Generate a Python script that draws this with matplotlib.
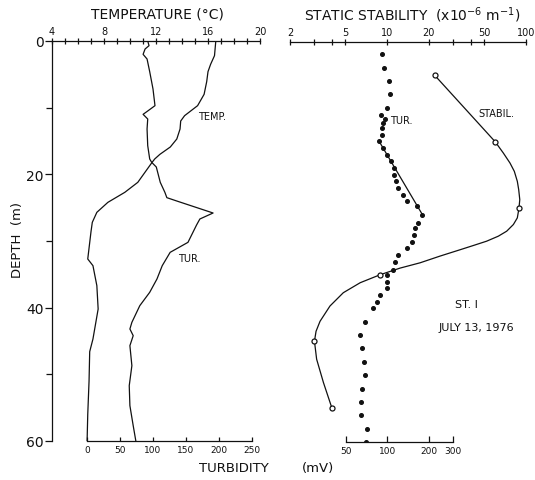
import numpy as np
import matplotlib
matplotlib.use('Agg')
import matplotlib.pyplot as plt

# left panel: temperature (top axis) and turbidity (bottom axis) vs depth
temp_depth = [0, 2.2, 3.5, 4.6, 6.1, 8, 9.7, 11.2, 12, 13.2, 14.7, 15.9, 17, 17.7, 18.2,
              19.7, 21.2, 22.7, 24.2, 25.7, 27.2, 28.6, 32.7, 33.7, 36.7, 40.2, 44.7,
              46.6, 51, 56, 60]
temp_c = [16.6, 16.5, 16.2, 16.0, 15.9, 15.7, 15.2, 14.2, 13.9, 13.85, 13.6, 13.1, 12.3,
          11.9, 11.7, 11.15, 10.6, 9.6, 8.3, 7.45, 7.1, 7.0, 6.75, 7.15, 7.45, 7.55, 7.15,
          6.9, 6.85, 6.75, 6.7]

turb_depth = [0, 0.7, 1.2, 2.0, 2.7, 4.6, 7.2, 9.7, 10.5, 11, 11.7, 13.2, 15.7, 17.7,
              18.2, 18.9, 21.2, 22.7, 23.5, 24.0, 25.8, 26.7, 27.6, 28.6, 30.2, 31.7, 33.7,
              35.7, 37.7, 39.7, 42.2, 43.2, 44.2, 45.7, 48.7, 51.7, 54.7, 57.7, 60]
turb_mv = [92, 94, 88, 85, 91, 95, 100, 103, 92, 85, 92, 91, 92, 95, 98, 105, 111, 118,
           121, 136, 191, 171, 166, 161, 153, 126, 114, 106, 95, 80, 68, 65, 70, 65, 68,
           64, 65, 70, 74]

# right panel: turbidity dots (log axis at bottom) and static stability (log axis on top)
rturb_depth = [2, 4, 6, 8, 10, 11, 11.6, 12.3, 13, 14, 15, 16, 17, 18, 19, 20, 21, 22, 23,
               24, 24.7, 26, 27.2, 28, 29, 30, 31, 32, 33, 34.2, 35, 36, 37, 38, 39, 40,
               42, 44, 46, 48, 50, 52, 54, 56, 58, 60]
rturb_mv = [91, 95, 103, 104, 99, 90, 96, 93, 92, 91, 87, 93, 99, 106, 112, 112, 115, 120,
            129, 138, 163, 178, 166, 159, 157, 150, 138, 120, 114, 109, 100, 100, 100, 88,
            84, 78, 69, 63, 65, 68, 69, 65, 64, 64, 71, 70]
fit_depth = [15, 26]
fit_mv = [87, 180]

stab_depth = [5, 15, 25, 35, 45, 55]
stab_val = [22, 60, 89, 8.9, 3.0, 4.0]
# hand drawn curve through the stability points
stab_curve_depth = [5, 15, 16.7, 18.2, 19.45, 20.95, 22.2, 23.7, 25, 26.45, 27.45, 28.45,
                    29.2, 29.95, 30.6, 31.2, 32.2, 33.2, 34.0, 35, 36.2, 37.7, 39.7, 42.0,
                    43.5, 45, 47.7, 51.2, 55]
stab_curve_val = [22, 60, 68.7, 76.7, 82.4, 86.6, 88.6, 90.2, 89, 86.6, 81.1, 72.6, 63.2,
                  52.1, 41.8, 34, 24.0, 17.3, 12.4, 8.9, 6.4, 4.84, 3.88, 3.29, 3.08, 3.0,
                  3.11, 3.48, 4.0]

temp_ticks = [4, 8, 12, 16, 20]
bturb_ticks = [0, 50, 100, 150, 200, 250]
stab_ticks = [2, 5, 10, 20, 50, 100]
rturb_ticks = [50, 100, 200, 300]
depth_ticks = [0, 20, 40, 60]

W, H = 535, 481
fig = plt.figure(figsize=(W / 100, H / 100), dpi=100)
ink = '#111111'
lw = 0.9


def box(x0, x1, y0=42, y1=442):
    return [x0 / W, 1 - y1 / H, (x1 - x0) / W, (y1 - y0) / H]


def bare(ax, keep):
    for s in ['left', 'right', 'top', 'bottom']:
        ax.spines[s].set_visible(s in keep)
        ax.spines[s].set_linewidth(lw)
        ax.spines[s].set_color(ink)
    ax.patch.set_visible(False)
    ax.set_ylim(60, 0)


# temperature
ax_t = fig.add_axes(box(52, 260))
bare(ax_t, ['left', 'top'])
ax_t.set_xlim(4, 20)
ax_t.xaxis.tick_top()
ax_t.set_xticks(temp_ticks)
ax_t.set_xticks(range(4, 21), minor=True)
ax_t.tick_params(axis='x', which='both', direction='inout', length=5, width=lw,
                 color=ink, labelsize=7, pad=1, labelcolor=ink)
ax_t.set_yticks(depth_ticks)
ax_t.set_yticks([10, 30, 50], minor=True)
ax_t.tick_params(axis='y', which='major', direction='out', length=5, width=lw,
                 color=ink, labelsize=10, labelcolor=ink, pad=1)
ax_t.tick_params(axis='y', which='minor', direction='out', length=4, width=lw, color=ink)
ax_t.plot(temp_c, temp_depth, color=ink, lw=lw)

# turbidity, linear
ax_b = fig.add_axes(box(87, 252))
bare(ax_b, ['bottom'])
ax_b.set_xlim(0, 250)
ax_b.set_xticks(bturb_ticks)
ax_b.set_yticks([])
ax_b.tick_params(axis='x', direction='in', length=3, width=lw, color=ink,
                 labelsize=6.5, labelcolor=ink, pad=3)
ax_b.plot(turb_mv, turb_depth, color=ink, lw=lw)

# static stability
ax_s = fig.add_axes(box(290, 526, 43))
bare(ax_s, ['top'])
ax_s.set_ylim(60, 0)
ax_s.set_xscale('log')
ax_s.set_xlim(2, 100)
ax_s.xaxis.tick_top()
ax_s.set_xticks(stab_ticks)
ax_s.set_xticklabels([str(v) for v in stab_ticks])
ax_s.set_xticks([3, 4, 30, 40], minor=True)
ax_s.set_xticklabels([], minor=True)
ax_s.set_yticks([])
ax_s.tick_params(axis='x', which='both', direction='inout', length=5, width=lw,
                 color=ink, labelsize=7, pad=1, labelcolor=ink)
ax_s.plot(stab_curve_val, stab_curve_depth, color=ink, lw=lw)
ax_s.plot(stab_val, stab_depth, 'o', ms=3.6, mfc='white', mec=ink, mew=0.9)

# turbidity, log
ax_r = fig.add_axes(box(346, 453, 42, 443))
bare(ax_r, ['bottom'])
ax_r.set_xscale('log')
ax_r.set_xlim(50, 300)
ax_r.set_xticks(rturb_ticks)
ax_r.set_xticklabels([str(v) for v in rturb_ticks])
ax_r.set_xticks([], minor=True)
ax_r.set_yticks([])
ax_r.tick_params(axis='x', direction='in', length=4, width=lw, color=ink,
                 labelsize=6.5, labelcolor=ink, pad=3)
ax_r.plot(rturb_mv, rturb_depth, 'o', ms=2.6, color=ink)
ax_r.plot(fit_mv, fit_depth, color=ink, lw=lw)

# labels
fig.text(157 / W, 1 - 15 / H, 'TEMPERATURE (°C)', ha='center', va='center',
         fontsize=10, color=ink)
fig.text(412 / W, 1 - 15 / H, r'STATIC STABILITY  (x10$^{-6}$ m$^{-1}$)', ha='center',
         va='center', fontsize=10, color=ink)
fig.text(18 / W, 1 - 240 / H, 'DEPTH  (m)', rotation=90, ha='center', va='center',
         fontsize=9.5, color=ink)
fig.text(234 / W, 1 - 469 / H, 'TURBIDITY', ha='center', va='center', fontsize=9.5,
         color=ink)
fig.text(318 / W, 1 - 469 / H, '(mV)', ha='center', va='center', fontsize=9.5, color=ink)
fig.text(198 / W, 1 - 117 / H, 'TEMP.', ha='left', va='center', fontsize=7, color=ink)
fig.text(178 / W, 1 - 259 / H, 'TUR.', ha='left', va='center', fontsize=7, color=ink)
fig.text(390 / W, 1 - 121 / H, 'TUR.', ha='left', va='center', fontsize=7, color=ink)
fig.text(478 / W, 1 - 114 / H, 'STABIL.', ha='left', va='center', fontsize=7, color=ink)
fig.text(466 / W, 1 - 305 / H, 'ST. I', ha='center', va='center', fontsize=8, color=ink)
fig.text(476 / W, 1 - 328 / H, 'JULY 13, 1976', ha='center', va='center', fontsize=8,
         color=ink)

fig.savefig('out.png', dpi=100)
